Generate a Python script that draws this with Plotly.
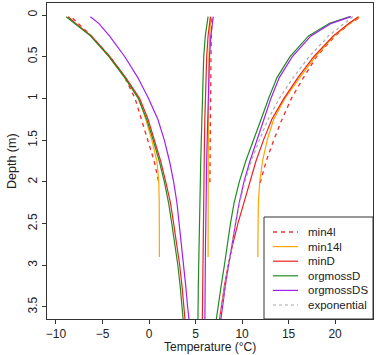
import plotly.graph_objects as go

# ---------------- data ----------------
depth = [0.02, 0.1, 0.25, 0.5, 0.75, 1.0, 1.25, 1.5, 1.75, 2.0, 2.25, 2.5, 2.75, 3.0, 3.25, 3.5, 3.75]
depth_min14l = [0.02, 0.1, 0.25, 0.5, 0.75, 1.0, 1.25, 1.5, 1.75, 2.0, 2.25, 2.5, 2.75, 2.9]
depth_min4l = [0.04, 0.1, 0.25, 0.5, 0.75, 1.0, 1.25, 1.5, 1.75, 2.03]

# min4l (dashed red)
min4l_low = [-8.2, -7.6, -6.2, -4.2, -2.6, -1.5, -0.8, -0.1, 0.55, 1.1]
min4l_mean = [6.75, 6.72, 6.7, 6.66, 6.63, 6.6, 6.58, 6.56, 6.55, 6.54]
min4l_high = [22.5, 21.6, 20.0, 18.0, 16.6, 15.3, 14.3, 13.4, 12.6, 11.9]

# min14l (orange)
min14l_low = [-8.7, -7.9, -6.2, -4.3, -2.6, -1.1, -0.35, 0.3, 0.85, 1.05, 1.1, 1.1, 1.12, 1.12]
min14l_mean = [6.65, 6.6, 6.52, 6.45, 6.42, 6.4, 6.39, 6.38, 6.37, 6.36, 6.36, 6.35, 6.35, 6.35]
min14l_high = [22.6, 21.6, 19.9, 17.9, 16.2, 14.6, 13.4, 12.7, 12.2, 11.9, 11.75, 11.7, 11.7, 11.7]

# minD (red)
minD_low = [-8.7, -7.9, -6.2, -4.2, -2.5, -1.0, -0.1, 0.6, 1.25, 1.8, 2.3, 2.65, 3.0, 3.3, 3.55, 3.75, 3.95]
minD_mean = [6.6, 6.5, 6.35, 6.2, 6.12, 6.05, 6.0, 5.96, 5.93, 5.9, 5.87, 5.85, 5.82, 5.8, 5.77, 5.74, 5.72]
minD_high = [22.5, 21.5, 19.8, 17.7, 16.0, 14.5, 13.2, 12.3, 11.5, 10.85, 10.2, 9.55, 9.0, 8.5, 8.1, 7.75, 7.45]

# orgmossD (green)
orgmossD_low = [-8.9, -8.0, -6.3, -4.3, -2.6, -1.15, -0.25, 0.45, 1.1, 1.65, 2.1, 2.45, 2.8, 3.1, 3.35, 3.55, 3.75]
orgmossD_mean = [6.35, 6.25, 6.05, 5.88, 5.8, 5.75, 5.68, 5.62, 5.56, 5.5, 5.46, 5.42, 5.38, 5.34, 5.3, 5.27, 5.25]
orgmossD_high = [21.6, 19.4, 17.15, 15.15, 13.75, 12.85, 12.05, 11.25, 10.4, 9.7, 9.15, 8.75, 8.45, 8.1, 7.75, 7.4, 7.1]

# orgmossDS (purple)
orgmossDS_low = [-6.3, -5.4, -4.25, -2.6, -1.2, -0.05, 0.95, 1.65, 2.2, 2.65, 3.0, 3.25, 3.5, 3.7, 3.95, 4.15, 4.4]
orgmossDS_mean = [6.9, 6.8, 6.65, 6.5, 6.42, 6.35, 6.3, 6.25, 6.2, 6.15, 6.12, 6.1, 6.07, 6.05, 6.03, 6.01, 6.0]
orgmossDS_high = [21.7, 19.6, 17.4, 15.4, 14.0, 13.1, 12.35, 11.6, 10.85, 10.2, 9.7, 9.3, 8.9, 8.55, 8.2, 7.9, 7.6]

# exponential (grey dashed)
exponential_high = [21.9, 21.0, 19.3, 17.2, 15.5, 14.0, 12.8, 11.85, 11.0, 10.3, 9.75, 9.3, 8.9, 8.5, 8.15, 7.8, 7.5]

x_ticks = [-10, -5, 0, 5, 10, 15, 20]
y_ticks = [0, 0.5, 1, 1.5, 2, 2.5, 3, 3.5]
x_title = "Temperature (°C)"
y_title = "Depth (m)"

names = ["min4l", "min14l", "minD", "orgmossD", "orgmossDS", "exponential"]
colors = ["#F03030", "#FFA500", "#EE2222", "#228B22", "#A020F0", "#AAAAAA"]
dashes = ["4px,4px", "solid", "solid", "solid", "solid", "3px,3px"]
widths = [1.35, 1.2, 1.2, 1.2, 1.2, 1.2]

series = {
    "min4l": (depth_min4l, [min4l_low, min4l_mean, min4l_high]),
    "min14l": (depth_min14l, [min14l_low, min14l_mean, min14l_high]),
    "minD": (depth, [minD_low, minD_mean, minD_high]),
    "orgmossD": (depth, [orgmossD_low, orgmossD_mean, orgmossD_high]),
    "orgmossDS": (depth, [orgmossDS_low, orgmossDS_mean, orgmossDS_high]),
    "exponential": (depth, [exponential_high]),
}

# ---------------- figure ----------------
W, H = 377, 355
ML, MR, MT, MB = 47, 4, 3, 36
X_RANGE = [-10.96, 24.07]
Y_RANGE = [3.644, -0.144]

fig = go.Figure()
for name, col, dash, lw in zip(names, colors, dashes, widths):
    d, curves = series[name]
    for c in curves:
        fig.add_trace(go.Scatter(x=c, y=d, mode="lines", name=name, showlegend=False,
                                 line=dict(color=col, dash=dash, width=lw)))

font = "Liberation Sans, Arial, Helvetica, sans-serif"
axis_common = dict(showgrid=False, zeroline=False, showline=True, mirror=True,
                   linecolor="#333333", linewidth=1, ticks="outside", ticklen=4,
                   tickcolor="#333333", tickwidth=1, automargin=False,
                   tickfont=dict(family=font, size=12, color="#222222"))

fig.update_layout(
    width=W, height=H, margin=dict(l=ML, r=MR, t=MT, b=MB, autoexpand=False),
    paper_bgcolor="white", plot_bgcolor="white",
    font=dict(family=font, color="#222222"),
    xaxis=dict(range=X_RANGE, tickvals=x_ticks, **axis_common),
    yaxis=dict(range=Y_RANGE, tickvals=y_ticks, ticktext=[f"{v:g}" for v in y_ticks], tickangle=-90,
               **axis_common),
)

pw, ph = W - ML - MR, H - MT - MB
def px(xp):
    return (xp - ML) / pw
def py(yp):
    return 1 - (yp - MT) / ph

# axis titles
fig.add_annotation(xref="paper", yref="paper", x=px(ML + pw / 2), y=py(355), text=x_title,
                   showarrow=False, xanchor="center", yanchor="bottom", borderpad=0,
                   font=dict(family=font, size=12, color="#222222"))
fig.add_annotation(xref="paper", yref="paper", x=px(12), y=py(MT + ph / 2), text=y_title,
                   showarrow=False, xanchor="center", yanchor="middle", textangle=-90,
                   font=dict(family=font, size=12.5, color="#222222"))

# ---------------- legend (drawn in pixel-based paper coordinates) ----------------
fig.add_shape(type="rect", xref="paper", yref="paper",
              x0=px(264), x1=px(W - MR), y0=py(H - MB), y1=py(217),
              line=dict(color="#333333", width=1), fillcolor="white", layer="above")
row0, step = 232, 14.6
for i, (name, col, dash, lw) in enumerate(zip(names, colors, dashes, widths)):
    yy = row0 + i * step
    fig.add_shape(type="line", xref="paper", yref="paper",
                  x0=px(273), x1=px(298), y0=py(yy), y1=py(yy),
                  line=dict(color=col, dash=dash, width=lw), layer="above")
    fig.add_annotation(xref="paper", yref="paper", x=px(306), y=py(yy), text=name,
                       showarrow=False, xanchor="left", yanchor="middle",
                       font=dict(family=font, size=11.5, color="#222222"))

fig.write_html("out.html")
